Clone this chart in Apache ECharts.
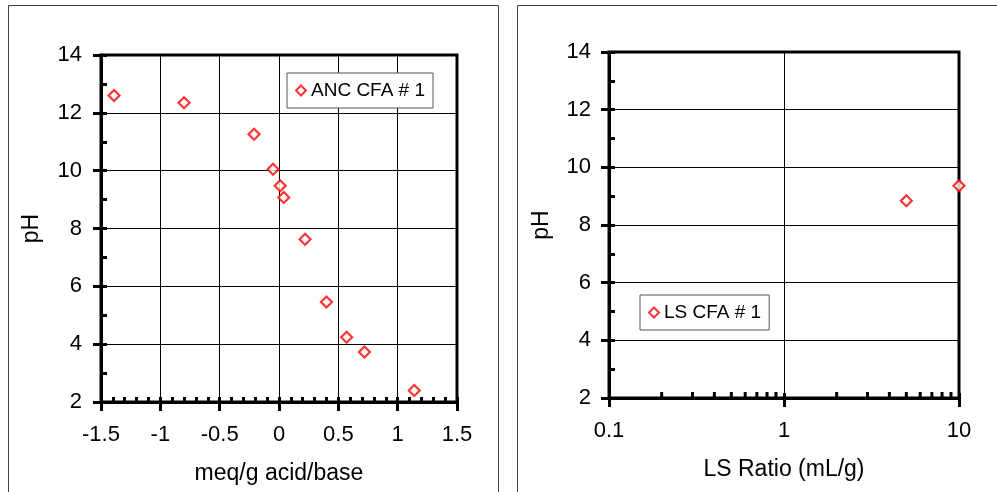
<!DOCTYPE html>
<html>
<head>
<meta charset="utf-8">
<script src="https://cdn.jsdelivr.net/npm/echarts@6/dist/echarts.min.js"></script>
<style>
  html, body { margin: 0; padding: 0; background: #fff; }
  #chart { width: 997px; height: 492px; }
</style>
</head>
<body>
<div id="chart"></div>
<script>
// Acid neutralization capacity titration: pH vs meq/g acid (+) or base (-)
const ancAcidBase = [-1.39, -0.80, -0.21, -0.05, 0.01, 0.04, 0.22, 0.40, 0.57, 0.72, 1.14];
const ancPH       = [12.60, 12.35, 11.26, 10.05, 9.48, 9.07, 7.63, 5.46, 4.24, 3.73, 2.40];

// Liquid-to-solid ratio test: pH vs LS ratio
const lsRatio = [5, 10];
const lsPH    = [8.84, 9.36];

// Log-axis minor tick values (2..9 within each decade)
const lsMinorTicks = [0.2, 0.3, 0.4, 0.5, 0.6, 0.7, 0.8, 0.9, 2, 3, 4, 5, 6, 7, 8, 9];

const seriesNames = ['ANC CFA # 1', 'LS CFA # 1'];
const xTitles = ['meq/g acid/base', 'LS Ratio (mL/g)'];
const yTitle = 'pH';

const FONT = 'Liberation Sans, Arial, sans-serif';
const RED = '#ff0000';

const ancData = ancAcidBase.map((x, i) => [x, ancPH[i]]);
const lsData = lsRatio.map((x, i) => [x, lsPH[i]]);
const minorData = lsMinorTicks.map(v => [v]);

const marker = {
  symbol: 'diamond',
  symbolSize: 11,
  itemStyle: { color: '#fff', borderColor: RED, borderWidth: 2.2 }
};

function mainY(gridIndex, labelMargin, gap) {
  return {
    gridIndex, type: 'value', position: 'left', min: 2, max: 14, interval: 2,
    name: yTitle, nameLocation: 'middle', nameGap: gap,
    nameTextStyle: { fontFamily: FONT, fontSize: 23, color: '#000' },
    axisLine: { show: true, onZero: false, lineStyle: { color: '#000', width: 3 } },
    axisTick: { show: true, inside: false, length: 8, lineStyle: { color: '#000', width: 3 } },
    axisLabel: { fontFamily: FONT, fontSize: 22, color: '#000', margin: labelMargin },
    splitLine: { show: true, lineStyle: { color: '#000', width: 1 } }
  };
}
function innerY(gridIndex) {
  return {
    gridIndex, type: 'value', position: 'left', min: 2, max: 14, interval: 2,
    axisLine: { show: false, onZero: false },
    axisTick: { show: true, inside: true, length: 6, lineStyle: { color: '#000', width: 3 } },
    minorTick: { show: true, splitNumber: 2, length: 6, lineStyle: { color: '#000', width: 3 } },
    axisLabel: { show: false },
    splitLine: { show: false }
  };
}

const option = {
  animation: false,
  backgroundColor: '#fff',
  graphic: [
    { type: 'rect', shape: { x: 8.5, y: 5.5, width: 490, height: 520 },
      style: { fill: 'none', stroke: '#404040', lineWidth: 1 }, silent: true },
    { type: 'rect', shape: { x: 517.5, y: 5.5, width: 520, height: 520 },
      style: { fill: 'none', stroke: '#404040', lineWidth: 1 }, silent: true }
  ],
  grid: [
    { left: 101, top: 55, width: 356, height: 347, show: true, borderWidth: 3, borderColor: '#000', backgroundColor: 'transparent' },
    { left: 609, top: 52, width: 350, height: 346, show: true, borderWidth: 3, borderColor: '#000', backgroundColor: 'transparent' }
  ],
  xAxis: [
    {
      gridIndex: 0, type: 'value', position: 'bottom', min: -1.5, max: 1.5, interval: 0.5,
      name: xTitles[0], nameLocation: 'middle', nameGap: 60,
      nameTextStyle: { fontFamily: FONT, fontSize: 23, color: '#000' },
      axisLine: { show: true, onZero: false, lineStyle: { color: '#000', width: 3 } },
      axisTick: { show: true, inside: false, length: 9, lineStyle: { color: '#000', width: 3 } },
      axisLabel: { fontFamily: FONT, fontSize: 22, color: '#000', margin: 22 },
      splitLine: { show: true, lineStyle: { color: '#000', width: 1 } }
    },
    {
      gridIndex: 0, type: 'value', position: 'bottom', min: -1.5, max: 1.5, interval: 0.5,
      axisLine: { show: false, onZero: false },
      axisTick: { show: true, inside: true, length: 5, lineStyle: { color: '#000', width: 3 } },
      minorTick: { show: true, splitNumber: 5, length: 5, lineStyle: { color: '#000', width: 3 } },
      axisLabel: { show: false },
      splitLine: { show: false }
    },
    {
      gridIndex: 1, type: 'log', logBase: 10, position: 'bottom', min: 0.1, max: 10,
      name: xTitles[1], nameLocation: 'middle', nameGap: 60,
      nameTextStyle: { fontFamily: FONT, fontSize: 23, color: '#000' },
      axisLine: { show: true, onZero: false, lineStyle: { color: '#000', width: 3 } },
      axisTick: { show: true, inside: false, length: 9, lineStyle: { color: '#000', width: 3 } },
      axisLabel: { fontFamily: FONT, fontSize: 22, color: '#000', margin: 22 },
      splitLine: { show: true, lineStyle: { color: '#000', width: 1 } }
    },
    {
      gridIndex: 1, type: 'log', logBase: 10, position: 'bottom', min: 0.1, max: 10,
      axisLine: { show: false, onZero: false },
      axisTick: { show: true, inside: true, length: 5, lineStyle: { color: '#000', width: 3 } },
      axisLabel: { show: false },
      splitLine: { show: false }
    }
  ],
  yAxis: [mainY(0, 19, 58), innerY(0), mainY(1, 18, 56), innerY(1)],
  legend: [
    {
      left: 287, top: 73,
      data: [{ name: seriesNames[0], icon: 'diamond' }],
      itemWidth: 10, itemHeight: 10, itemGap: 0,
      padding: [8, 8, 8, 8],
      backgroundColor: '#fff', borderColor: '#555', borderWidth: 1, borderRadius: 0,
      textStyle: { fontFamily: FONT, fontSize: 19, color: '#000', lineHeight: 19 },
      itemStyle: { color: '#fff', borderColor: RED, borderWidth: 2 }
    },
    {
      left: 640, top: 295,
      data: [{ name: seriesNames[1], icon: 'diamond' }],
      itemWidth: 10, itemHeight: 10, itemGap: 0,
      padding: [8, 8, 8, 8],
      backgroundColor: '#fff', borderColor: '#555', borderWidth: 1, borderRadius: 0,
      textStyle: { fontFamily: FONT, fontSize: 19, color: '#000', lineHeight: 19 },
      itemStyle: { color: '#fff', borderColor: RED, borderWidth: 2 }
    }
  ],
  series: [
    Object.assign({ type: 'scatter', name: seriesNames[0], xAxisIndex: 0, yAxisIndex: 0, data: ancData, z: 5 }, marker),
    Object.assign({ type: 'scatter', name: seriesNames[1], xAxisIndex: 2, yAxisIndex: 2, data: lsData, z: 5, clip: false }, marker),
    {
      // short inward ticks at 2..9 of each decade on the log axis
      type: 'custom', name: 'minor', xAxisIndex: 2, yAxisIndex: 2, silent: true, clip: false, z: 4,
      data: minorData,
      renderItem: function (params, api) {
        const p = api.coord([api.value(0), 2]);
        return {
          type: 'line',
          shape: { x1: p[0], y1: p[1], x2: p[0], y2: p[1] - 6 },
          style: { stroke: '#000', lineWidth: 3 }
        };
      }
    }
  ]
};

const chart = echarts.init(document.getElementById('chart'), null, { renderer: 'canvas' });
chart.setOption(option);
</script>
</body>
</html>
